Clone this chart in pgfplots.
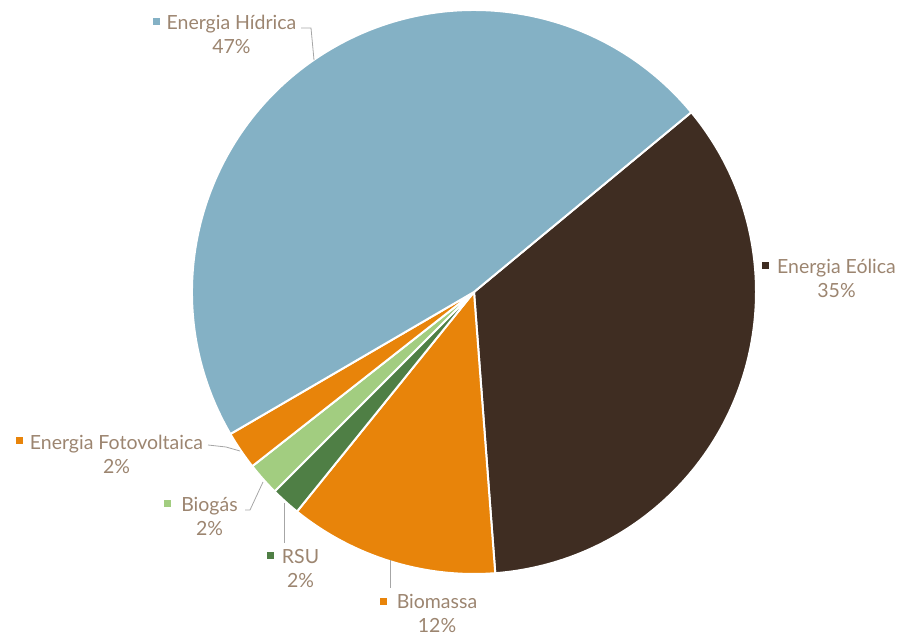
\documentclass[border=0pt]{standalone}
\usepackage{pgfplots}
\usepackage{pgfplotstable}
\pgfplotsset{compat=1.18}
\usepackage{fontspec}
\setmainfont{Lato}
\definecolor{c0}{HTML}{3F2D22}
\definecolor{c1}{HTML}{E8840A}
\definecolor{c2}{HTML}{4F7F45}
\definecolor{c3}{HTML}{A2CD80}
\definecolor{c4}{HTML}{E8840A}
\definecolor{c5}{HTML}{84B1C5}
\definecolor{txt}{HTML}{9C8570}
\definecolor{lead}{HTML}{A6A6A6}
\tikzset{lbl/.style={align=center, text=txt, font=\fontsize{19.5bp}{24bp}\selectfont, inner sep=0pt}}
% slices in clockwise order starting at 39.6 degrees
\pgfplotstableread{
label value
Eolica 34.8
Biomassa 12.0
RSU 1.7
Biogas 1.9
Fotovoltaica 2.2
Hidrica 47.4
}\piedata
\newcommand\computeangles{%
  \gdef\cumang{39.6}%
  \pgfplotsforeachungrouped \i in {0,...,5}{%
    \pgfplotstablegetelem{\i}{value}\of\piedata
    \pgfmathsetmacro\a{\cumang}%
    \pgfmathsetmacro\b{\cumang-3.6*\pgfplotsretval}%
    \expandafter\xdef\csname sa\i\endcsname{\a}%
    \expandafter\xdef\csname ea\i\endcsname{\b}%
    \xdef\cumang{\b}%
  }}
\begin{document}
\computeangles
\begin{tikzpicture}
\begin{axis}[
  width=902bp, height=637bp, scale only axis,
  xmin=0, xmax=902, ymin=0, ymax=637,
  hide axis, clip=false,
]
\pgfplotsinvokeforeach{0,...,5}{
  \fill[fill=c#1, draw=white, line width=2pt, line join=round]
    (axis cs:474,345) -- ++(\csname sa#1\endcsname:282bp)
    arc[start angle=\csname sa#1\endcsname, end angle=\csname ea#1\endcsname, radius=282bp] -- cycle;
}
% leader lines
\draw[lead, line width=0.8pt] (axis cs:301,609) -- (axis cs:311,609) -- (axis cs:314,577);
\draw[lead, line width=0.8pt] (axis cs:208,192) -- (axis cs:226,190) -- (axis cs:240,186);
\draw[lead, line width=0.8pt] (axis cs:245,127) -- (axis cs:250,127) -- (axis cs:263,155);
\draw[lead, line width=0.8pt] (axis cs:284,94) -- (axis cs:284,134);
\draw[lead, line width=0.8pt] (axis cs:390,49) -- (axis cs:390,77);
% labels
\node[lbl] at (axis cs:231.5,603) {Energia Hídrica\\47\%};
\fill[c5] (axis cs:152.5,611.5) rectangle (axis cs:159.5,618.5);
\node[lbl] at (axis cs:836.5,358.5) {Energia Eólica\\35\%};
\fill[c0] (axis cs:761.5,367.5) rectangle (axis cs:768.5,374.5);
\node[lbl] at (axis cs:116.5,182.5) {Energia Fotovoltaica\\2\%};
\fill[c4] (axis cs:15.5,192.5) rectangle (axis cs:22.5,199.5);
\node[lbl] at (axis cs:209.5,120.5) {Biogás\\2\%};
\fill[c3] (axis cs:164,130) rectangle (axis cs:171,137);
\node[lbl] at (axis cs:300.5,68.5) {RSU\\2\%};
\fill[c2] (axis cs:267,78) rectangle (axis cs:274,85);
\node[lbl] at (axis cs:437,23.5) {Biomassa\\12\%};
\fill[c1] (axis cs:379.5,32) rectangle (axis cs:386.5,39);
\end{axis}
\pgfresetboundingbox
\path (current axis.south west) rectangle (current axis.north east);
\end{tikzpicture}
\end{document}
